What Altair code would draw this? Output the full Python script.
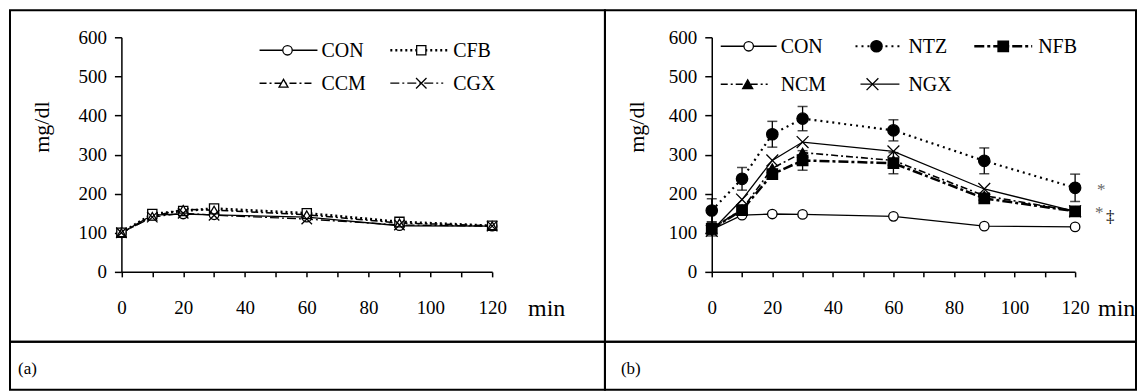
import altair as alt
import pandas as pd

FONT = "Liberation Serif"

# ---------------- data ----------------
times = [0, 10, 20, 30, 60, 90, 120]
x_tick_values = [0, 10, 20, 30, 40, 50, 60, 70, 80, 90, 100, 110, 120]
y_tick_values = [0, 100, 200, 300, 400, 500, 600]

# panel (a): control groups
a_names = ["CON", "CFB", "CCM", "CGX"]
a_CON = [100, 145, 148, 146, 140, 118, 117]
a_CFB = [100, 148, 156, 162, 150, 128, 118]
a_CCM = [100, 142, 160, 158, 146, 125, 118]
a_CGX = [100, 140, 150, 145, 135, 120, 117]

# panel (b): treated groups
b_names = ["CON", "NTZ", "NFB", "NCM", "NGX"]
b_CON = [108, 145, 148, 147, 142, 117, 115]
b_NTZ = [157, 238, 352, 392, 362, 284, 215]
b_NFB = [110, 158, 250, 285, 278, 188, 155]
b_NCM = [110, 160, 265, 305, 285, 195, 155]
b_NGX = [105, 185, 285, 332, 308, 212, 155]
b_NTZ_err = [30, 29, 33, 31, 27, 33, 35]
b_NFB_err = [18, 0, 0, 25, 27, 0, 0]

panel_labels = ["(a)", "(b)"]
sig_marks = ["*", "*", "\u2021"]

# ---------------- styles ----------------
XPATH = "M-1,-1L1,1M-1,1L1,-1"
STYLE = {
    "CON": dict(dash=None, width=1.3, shape="circle", fill="white", size=90),
    "CFB": dict(dash=[2, 3], width=2.6, shape="square", fill="white", size=85),
    "CCM": dict(dash=[7, 3, 2, 3], width=1.5, shape="triangle-up", fill="white", size=80),
    "CGX": dict(dash=[9, 3, 2, 3], width=1.3, shape=XPATH, fill=None, size=110),
    "NTZ": dict(dash=[2, 4], width=2.2, shape="circle", fill="black", size=130),
    "NFB": dict(dash=[10, 3, 3, 3], width=2.5, shape="square", fill="black", size=110),
    "NCM": dict(dash=[7, 3, 2, 3], width=1.6, shape="triangle-up", fill="black", size=100),
    "NGX": dict(dash=None, width=1.3, shape=XPATH, fill=None, size=140),
}

# ---------------- layout (pixels, cell-relative) ----------------
W_A, W_B, H_TOP, H_BOT = 596, 532, 332, 48
Y0, Y600 = 262, 27
XR_A = [111.6, 483]
XR_B = [107, 471]
TICK_FS, LEG_FS, MIN_FS, YT_FS = 19, 20, 24, 22


def long_df(names, arrays):
    rows = []
    for n, arr in zip(names, arrays):
        for t, v in zip(times, arr):
            rows.append({"t": t, "v": v, "s": n})
    return pd.DataFrame(rows)


def line_props(st):
    p = dict(color="black", strokeWidth=st["width"])
    if st["dash"]:
        p["strokeDash"] = st["dash"]
    return p


def point_props(st):
    p = dict(shape=st["shape"], size=st["size"], stroke="black", strokeWidth=1.3, opacity=1)
    if st["fill"] is None:
        p["filled"] = False
    else:
        p["filled"] = True
        p["fill"] = st["fill"]
    return p


ONE = alt.Data(values=[{"k": 1}])


def legend_layers(entries):
    out = []
    for name, x1, x2, xm, xt, y in entries:
        st = STYLE[name]
        out.append(alt.Chart(ONE).mark_rule(**line_props(st)).encode(
            x=alt.value(x1), x2=alt.value(x2), y=alt.value(y)))
        out.append(alt.Chart(ONE).mark_point(**point_props(st)).encode(
            x=alt.value(xm), y=alt.value(y)))
        out.append(alt.Chart(ONE).mark_text(
            text=name, font=FONT, fontSize=LEG_FS, align="left", baseline="middle",
            fill="black").encode(x=alt.value(xt), y=alt.value(y + 1)))
    return out


def panel(df, names, xr, width, legend_entries, ylab_x, min_x, err=None, sig=None):
    xenc = alt.X("t:Q", scale=alt.Scale(domain=[0, 120], range=xr, nice=False, zero=False),
                 axis=alt.Axis(values=x_tick_values, title=None, grid=False,
                               labelExpr="datum.value % 20 == 0 ? datum.label : ''",
                               offset=-(H_TOP - Y0), tickSize=5, labelPadding=22,
                               labelFont=FONT, labelFontSize=TICK_FS, labelColor="black",
                               domainColor="black", domainWidth=1.5,
                               tickColor="black", tickWidth=1.5,
                               labelFlush=False, labelOverlap=False))
    yenc = alt.Y("v:Q", scale=alt.Scale(domain=[0, 600], range=[Y0, Y600], nice=False),
                 axis=alt.Axis(values=y_tick_values, title=None, grid=False,
                               offset=-xr[0], tickSize=7, labelPadding=8,
                               labelFont=FONT, labelFontSize=TICK_FS, labelColor="black",
                               domainColor="black", domainWidth=1.5,
                               tickColor="black", tickWidth=1.5,
                               labelFlush=False, labelOverlap=False))
    base = alt.Chart(df)
    layers = []
    for n in names:
        layers.append(base.transform_filter(alt.datum.s == n)
                      .mark_line(**line_props(STYLE[n])).encode(x=xenc, y=yenc))
    if err is not None:
        edf = pd.DataFrame(err)
        eb = alt.Chart(edf)
        layers.append(eb.mark_rule(color="black", strokeWidth=1.3).encode(
            x=xenc, y="lo:Q", y2="hi:Q"))
        layers.append(eb.mark_tick(orient="horizontal", size=10, thickness=1.5, color="black").encode(
            x=xenc, y=alt.Y("lo:Q")))
        layers.append(eb.mark_tick(orient="horizontal", size=10, thickness=1.5, color="black").encode(
            x=xenc, y=alt.Y("hi:Q")))
    for n in names:
        layers.append(base.transform_filter(alt.datum.s == n)
                      .mark_point(**point_props(STYLE[n])).encode(x=xenc, y=yenc))
    if sig is not None:
        for txt, tt, vv, dx, dy, col in sig:
            layers.append(alt.Chart(pd.DataFrame({"t": [tt], "v": [vv]})).mark_text(
                text=txt, font=FONT, fontSize=17, align="left", baseline="middle",
                dx=dx, dy=dy, fill=col).encode(x=xenc, y=yenc))
    layers += legend_layers(legend_entries)
    layers.append(alt.Chart(ONE).mark_text(
        text="mg/dl", font=FONT, fontSize=YT_FS, angle=270, align="center",
        baseline="middle", fill="black").encode(x=alt.value(ylab_x), y=alt.value(117)))
    layers.append(alt.Chart(ONE).mark_text(
        text="min", font=FONT, fontSize=MIN_FS, align="left", baseline="middle",
        fill="black", clip=True).encode(x=alt.value(min_x), y=alt.value(299)))
    return alt.layer(*layers).properties(width=width, height=H_TOP)


df_a = long_df(a_names, [a_CON, a_CFB, a_CCM, a_CGX])
df_b = long_df(b_names, [b_CON, b_NTZ, b_NFB, b_NCM, b_NGX])

err_rows = {"t": [], "lo": [], "hi": []}
for vals, errs in [(b_NTZ, b_NTZ_err), (b_NFB, b_NFB_err)]:
    for t, v, e in zip(times, vals, errs):
        if e > 0:
            err_rows["t"].append(t)
            err_rows["lo"].append(v - e)
            err_rows["hi"].append(v + e)

leg_a = [
    ("CON", 250, 308, 278, 312, 40),
    ("CFB", 381, 438, 412, 444, 40),
    ("CCM", 250, 304, 274, 312, 73),
    ("CGX", 381, 434, 412, 444, 73),
]
leg_b = [
    ("CON", 116, 172, 144, 176, 36),
    ("NTZ", 251, 297, 272, 304, 36),
    ("NFB", 370, 428, 399, 434, 36),
    ("NCM", 116, 163, 143, 176, 74),
    ("NGX", 256, 295, 268, 304, 74),
]

sig_b = [
    (sig_marks[0], 120, b_NTZ[-1], 22, 2, "#666666"),
    (sig_marks[1], 120, b_NGX[-1], 20, 2, "#666666"),
    (sig_marks[2], 120, b_NGX[-1], 31, 6, "black"),
]

pa = panel(df_a, a_names, XR_A, W_A, leg_a, ylab_x=32, min_x=519)
pb = panel(df_b, b_names, XR_B, W_B, leg_b, ylab_x=32, min_x=494, err=err_rows, sig=sig_b)


def label_cell(txt, width, x):
    return alt.Chart(ONE).mark_text(
        text=txt, font=FONT, fontSize=17, align="left", baseline="middle", fill="black"
    ).encode(x=alt.value(x), y=alt.value(27)).properties(width=width, height=H_BOT)


la = label_cell(panel_labels[0], W_A, 8)
lb = label_cell(panel_labels[1], W_B, 16)

chart = alt.concat(pa, pb, la, lb, columns=2, spacing=0, bounds="flush").properties(
    padding={"left": 1, "top": 1, "right": 1, "bottom": 1},
    background="white",
).configure_view(
    stroke="black", strokeWidth=2
).configure_axis(
    labelFont=FONT, labelColor="black"
).configure_text(
    font=FONT
)

chart.save("out.html", embed_options={"renderer": "svg", "actions": False})
